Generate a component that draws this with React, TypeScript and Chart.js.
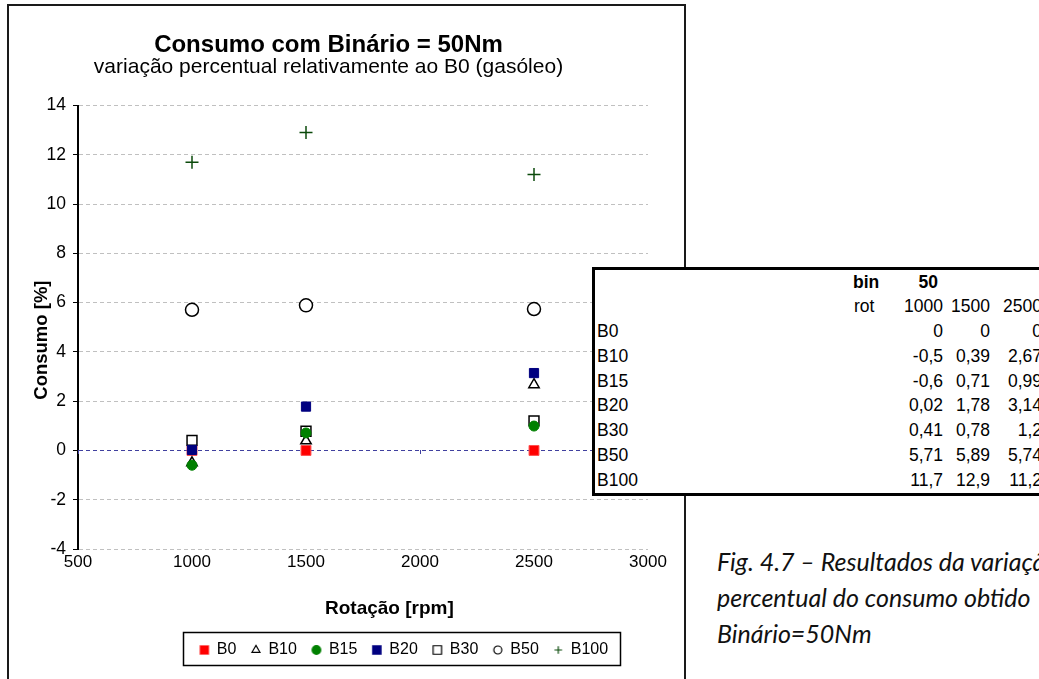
import React, { useEffect, useRef } from "react";
import { Chart, registerables } from "chart.js";
import { drawPoint } from "chart.js/helpers";

Chart.register(...registerables);

// ---------- data ----------
const rpm = [1000, 1500, 2500];
const seriesNames = ["B0", "B10", "B15", "B20", "B30", "B50", "B100"];
const b0 = [0, 0, 0];
const b10 = [-0.5, 0.39, 2.67];
const b15 = [-0.6, 0.71, 0.99];
const b20 = [0.02, 1.78, 3.14];
const b30 = [0.41, 0.78, 1.2];
const b50 = [5.71, 5.89, 5.74];
const b100 = [11.7, 12.9, 11.2];
const seriesValues = [b0, b10, b15, b20, b30, b50, b100];
const xTickValues = [500, 1000, 1500, 2000, 2500, 3000];
const yTickValues = [-4, -2, 0, 2, 4, 6, 8, 10, 12, 14];
const torque = 50;

// ---------- styles ----------
const FONT = "'Liberation Sans', Arial, Helvetica, sans-serif";
const seriesStyles = [
  { pointStyle: "rect", bg: "#ff0000", border: "#ff5050", radius: 7, bw: 1, order: 7, legendR: 6.4 },
  { pointStyle: "triangle", bg: "#ffffff", border: "#000000", radius: 6, bw: 1.5, order: 6, legendR: 4.6 },
  { pointStyle: "circle", bg: "#008000", border: "#008000", radius: 5, bw: 1, order: 4, legendR: 4.3 },
  { pointStyle: "rect", bg: "#000080", border: "#000080", radius: 6.5, bw: 1, order: 3, legendR: 6.4 },
  { pointStyle: "rect", bg: "#ffffff", border: "#000000", radius: 7, bw: 1.5, order: 5, legendR: 6.0 },
  { pointStyle: "circle", bg: "#ffffff", border: "#000000", radius: 6.5, bw: 1.5, order: 2, legendR: 4.0 },
  { pointStyle: "cross", bg: "#0b4a0b", border: "#0b4a0b", radius: 6.5, bw: 1.5, order: 1, legendR: 3.8 },
];

const fmt = (v: number) => String(v).replace(".", ",");

function legendMarker(i: number) {
  const s = seriesStyles[i];
  const c = document.createElement("canvas");
  c.width = 14;
  c.height = 14;
  const ctx = c.getContext("2d")!;
  ctx.fillStyle = s.bg;
  ctx.strokeStyle = s.border;
  ctx.lineWidth = s.pointStyle === "rect" && s.bg !== "#ffffff" ? 0.5 : 1.2;
  drawPoint(ctx, { pointStyle: s.pointStyle as any, rotation: 0, radius: s.legendR, borderWidth: ctx.lineWidth }, 7, 7);
  return c;
}

// ---------- plugins ----------
const legendShift = {
  id: "legendShift",
  afterLayout(chart: any) {
    const lg = chart.legend;
    if (!lg) return;
    const c = 395;
    const half = 300;
    lg.left = c - half;
    lg.right = c + half;
    lg.width = half * 2;
  },
};

const legendFrame = {
  id: "legendFrame",
  afterDraw(chart: any) {
    const lg = chart.legend;
    const hb = lg && lg.legendHitBoxes;
    if (!hb || !hb.length) return;
    const first = hb[0];
    const last = hb[hb.length - 1];
    const cy = first.top + first.height / 2;
    const ctx = chart.ctx;
    ctx.save();
    ctx.strokeStyle = "#000";
    ctx.lineWidth = 1.5;
    ctx.strokeRect(
      Math.round(first.left - 17) + 0.5,
      Math.round(cy - 18) + 0.5,
      Math.round(last.left + last.width - first.left + 29),
      33
    );
    ctx.restore();
  },
};

const zeroAxisTicks = {
  id: "zeroAxisTicks",
  beforeDatasetsDraw(chart: any) {
    const { ctx, scales } = chart;
    const x = scales.x;
    const y = scales.y;
    const py = Math.round(y.getPixelForValue(0));
    ctx.save();
    ctx.strokeStyle = "#40409f";
    ctx.lineWidth = 1;
    x.ticks.forEach((t: any) => {
      const px = Math.round(x.getPixelForValue(t.value)) + 0.5;
      ctx.beginPath();
      ctx.moveTo(px, py);
      ctx.lineTo(px, py + 4);
      ctx.stroke();
    });
    ctx.restore();
  },
};

function DataTable() {
  const rowH = 24.75;
  const valueRights = [348, 395, 447];
  const cell = (key: string, text: string, top: number, opts: any) => (
    <div
      key={key}
      style={{
        position: "absolute",
        top,
        height: rowH,
        lineHeight: rowH + "px",
        whiteSpace: "nowrap",
        ...opts,
      }}
    >
      {text}
    </div>
  );
  const cells: any[] = [];
  const rowTop = (i: number) => i * rowH - 0.4;
  cells.push(cell("bin", "bin", rowTop(0), { left: 258, fontWeight: "bold" }));
  cells.push(
    cell("binv", String(torque), rowTop(0), { left: 0, width: 343, textAlign: "right", fontWeight: "bold" })
  );
  cells.push(cell("rot", "rot", rowTop(1), { left: 259 }));
  rpm.forEach((r, j) =>
    cells.push(cell("rpm" + j, String(r), rowTop(1), { left: 0, width: valueRights[j], textAlign: "right" }))
  );
  seriesNames.forEach((name, i) => {
    cells.push(cell("n" + i, name, rowTop(i + 2), { left: 2 }));
    seriesValues[i].forEach((v, j) =>
      cells.push(
        cell("v" + i + "_" + j, fmt(v), rowTop(i + 2), { left: 0, width: valueRights[j], textAlign: "right" })
      )
    );
  });
  return (
    <div
      style={{
        position: "absolute",
        left: 592,
        top: 267,
        width: 470,
        height: 229,
        boxSizing: "border-box",
        border: "3px solid #000",
        background: "#fff",
        fontFamily: FONT,
        fontSize: 17.5,
        color: "#000",
        zIndex: 2,
      }}
    >
      {cells}
    </div>
  );
}

const captionLines = ["Fig. 4.7 \u2013 Resultados da varia\u00e7\u00e3o", "percentual do consumo obtido", "Bin\u00e1rio=50Nm"];

export default function App() {
  const ref = useRef<HTMLCanvasElement>(null);
  useEffect(() => {
    if (!ref.current) return;
    Chart.defaults.font.family = FONT;
    Chart.defaults.color = "#000";
    const markers = seriesNames.map((_, i) => legendMarker(i));
    const datasets = seriesNames.map((name, i) => {
      const s = seriesStyles[i];
      return {
        label: name,
        data: rpm.map((x, k) => ({ x, y: seriesValues[i][k] })),
        pointStyle: s.pointStyle,
        backgroundColor: s.bg,
        borderColor: s.border,
        borderWidth: s.bw,
        pointBackgroundColor: s.bg,
        pointBorderColor: s.border,
        pointBorderWidth: s.bw,
        pointRadius: s.radius,
        pointHoverRadius: s.radius,
        order: s.order,
        showLine: false,
      };
    });
    const chart = new Chart(ref.current, {
      type: "scatter",
      data: { datasets },
      plugins: [legendShift, legendFrame, zeroAxisTicks],
      options: {
        responsive: false,
        animation: false,
        events: [],
        layout: { padding: { left: 0, right: 36, top: 0, bottom: 11 } },
        plugins: {
          title: {
            display: true,
            text: "Consumo com Bin\u00e1rio = 50Nm",
            color: "#000",
            font: { size: 24, weight: "bold", lineHeight: 0.8 },
            padding: { top: 29.7, bottom: 0 },
          },
          subtitle: {
            display: true,
            text: "varia\u00e7\u00e3o percentual relativamente ao B0 (gas\u00f3leo)",
            color: "#000",
            font: { size: 21, lineHeight: 1 },
            padding: { top: 2.2, bottom: 27.4 },
          },
          legend: {
            position: "bottom",
            labels: {
              usePointStyle: true,
              boxWidth: 9,
              boxHeight: 9,
              padding: 15,
              color: "#000",
              font: { size: 16 },
              sort: (a: any, b: any) => a.datasetIndex - b.datasetIndex,
              generateLabels: (ch: any) => {
                const items = Chart.defaults.plugins.legend.labels.generateLabels(ch);
                return items.map((it: any) => ({ ...it, pointStyle: markers[it.datasetIndex] }));
              },
            },
          },
          tooltip: { enabled: false },
        },
        scales: {
          x: {
            type: "linear",
            min: 500,
            max: 3000,
            afterBuildTicks: (scale: any) => {
              scale.ticks = xTickValues.map((v) => ({ value: v }));
            },
            afterFit: (scale: any) => {
              scale.height = 78;
            },
            ticks: {
              color: "#000",
              font: { size: 17 },
              padding: 3,
              maxRotation: 0,
              callback: (v: any) => String(v),
            },
            grid: { drawOnChartArea: false, drawTicks: false },
            border: { display: false },
            title: {
              display: true,
              text: "\u00a0\u00a0\u00a0\u00a0\u00a0\u00a0\u00a0\u00a0\u00a0\u00a0Rota\u00e7\u00e3o [rpm]",
              color: "#000",
              font: { size: 19, weight: "bold", lineHeight: 1 },
              padding: { top: 0, bottom: 8.5 },
            },
          },
          y: {
            type: "linear",
            min: -4,
            max: 14,
            afterBuildTicks: (scale: any) => {
              scale.ticks = yTickValues.map((v) => ({ value: v }));
            },
            afterFit: (scale: any) => {
              scale.width = 69;
            },
            ticks: { color: "#000", font: { size: 17.5 }, padding: 7 },
            grid: {
              color: (c: any) => (c.tick && c.tick.value === 0 ? "#40409f" : "#c0c0c0"),
              lineWidth: 1,
              tickColor: "#000",
              tickLength: 5,
              tickWidth: 1,
              tickBorderDash: [],
            },
            border: { display: true, color: "#000", width: 2, dash: [4, 3] },
            title: {
              display: true,
              text: "Consumo [%]\u00a0\u00a0\u00a0\u00a0\u00a0",
              color: "#000",
              font: { size: 18.5, weight: "bold", lineHeight: 1 },
              padding: { top: 23.75, bottom: 0 },
            },
          },
        },
      } as any,
    } as any);
    return () => chart.destroy();
  }, []);

  return (
    <div
      style={{
        position: "fixed",
        left: 0,
        top: 0,
        width: 1039,
        height: 679,
        overflow: "hidden",
        background: "#fff",
      }}
    >
      <div
        style={{
          position: "absolute",
          left: 7,
          top: 4,
          width: 675,
          height: 700,
          border: "2px solid #1a1a1a",
          background: "#fff",
        }}
      >
        <canvas ref={ref} width={675} height={673} style={{ display: "block", width: 675, height: 673 }} />
      </div>
      <DataTable />
      <div
        style={{
          position: "absolute",
          left: 717,
          top: 543,
          fontFamily: "Lato, 'Open Sans', sans-serif",
          fontStyle: "italic",
          fontSize: 25,
          lineHeight: "36px",
          color: "#111",
          whiteSpace: "nowrap",
        }}
      >
        {captionLines.map((l, i) => (
          <div key={i}>{l}</div>
        ))}
      </div>
    </div>
  );
}
